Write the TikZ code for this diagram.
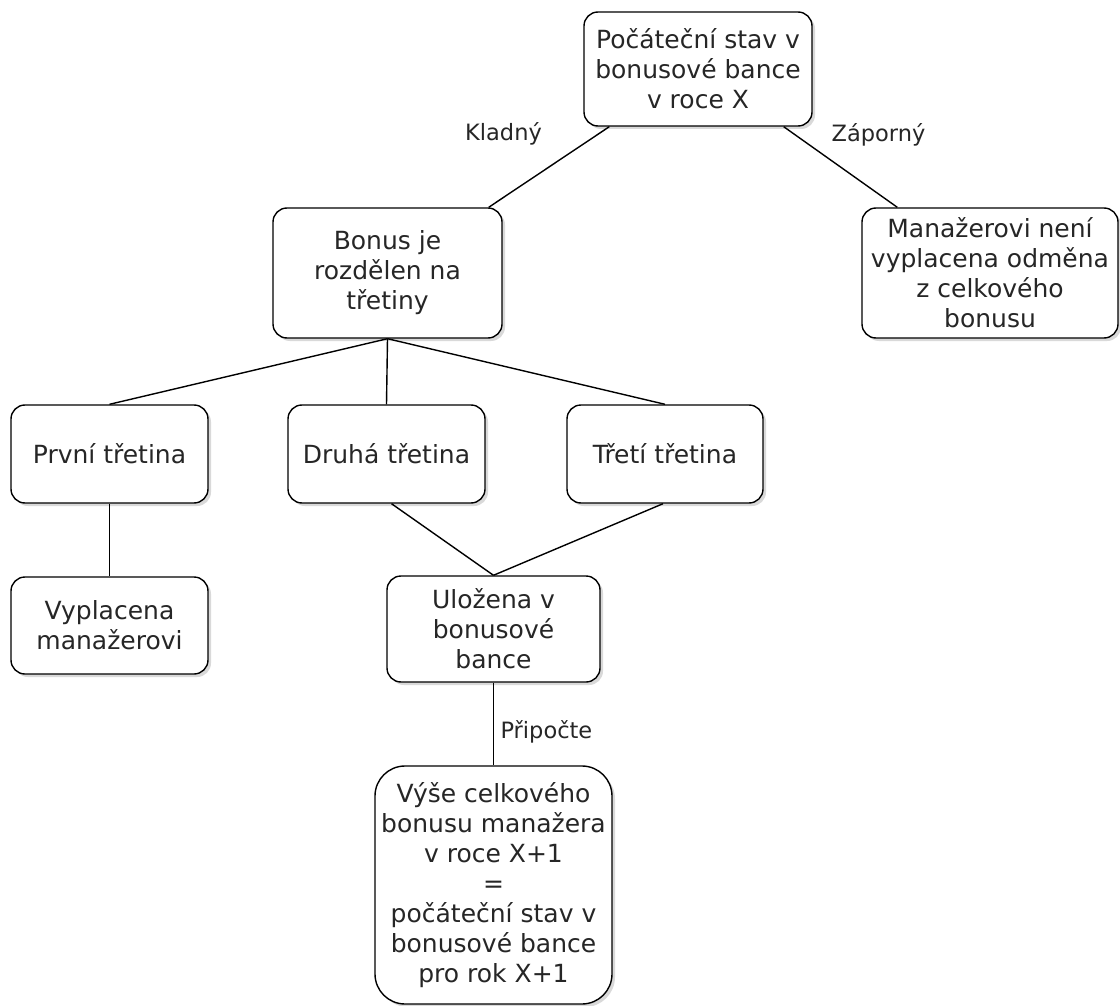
\documentclass[tikz,border=0pt]{standalone}
\usepackage{fontspec}
\setmainfont{DejaVu Sans}
\usetikzlibrary{shadows}
\begin{document}
\begin{tikzpicture}[x=1pt,y=-1pt,
  box/.style={draw,line width=1.4pt,rounded corners=14pt,fill=white,align=center,
    inner sep=0pt,text=black!85,font=\fontsize{25}{30}\selectfont,
    drop shadow={opacity=0.3,shadow xshift=3pt,shadow yshift=-3pt}},
  lbl/.style={text=black!85,font=\fontsize{22.5}{26}\selectfont},
  every path/.style={line width=1.4pt}]
\useasboundingbox (0,0) rectangle (1120,1006);
\node[box,minimum width=228pt,minimum height=114pt] (start) at (698,69) {Počáteční stav v\\bonusové bance\\v roce X};
\node[box,minimum width=229pt,minimum height=130pt] (bonus) at (387.5,273) {Bonus je\\rozdělen na\\třetiny};
\node[box,minimum width=256pt,minimum height=130pt] (none) at (990,273) {Manažerovi není\\vyplacena odměna\\z celkového\\bonusu};
\node[box,minimum width=197pt,minimum height=98pt] (first) at (109.5,454) {První třetina};
\node[box,minimum width=197pt,minimum height=98pt] (second) at (386.5,454) {Druhá třetina};
\node[box,minimum width=196pt,minimum height=98pt] (third) at (665,454) {Třetí třetina};
\node[box,minimum width=197pt,minimum height=97pt] (paid) at (109.5,625.5) {Vyplacena\\manažerovi};
\node[box,minimum width=213pt,minimum height=106pt] (stored) at (493.5,629) {Uložena v\\bonusové\\bance};
\node[box,rounded corners=30pt,minimum width=237pt,minimum height=238pt] (total) at (493.5,885) {Výše celkového\\bonusu manažera\\v roce X+1\\=\\počáteční stav v\\bonusové bance\\pro rok X+1};
\node[lbl] (pos) at (503.5,134) {Kladný};
\node[lbl] (neg) at (878.5,135) {Záporný};
\draw ([xshift=26pt]start.south west) -- ([xshift=-14pt]bonus.north east);
\draw ([xshift=-29pt]start.south east) -- ([xshift=36pt]none.north west);
\draw (bonus.south) -- (first.north);
\draw (bonus.south) -- (second.north);
\draw (bonus.south) -- (third.north);
\draw (first.south) -- (paid.north);
\draw ([xshift=5pt]second.south) -- (stored.north);
\draw ([xshift=-2pt]third.south) -- (stored.north);
\draw (stored.south) -- node[lbl,pos=0.6,right=3pt] {Připočte} (total.north);
\end{tikzpicture}
\end{document}
